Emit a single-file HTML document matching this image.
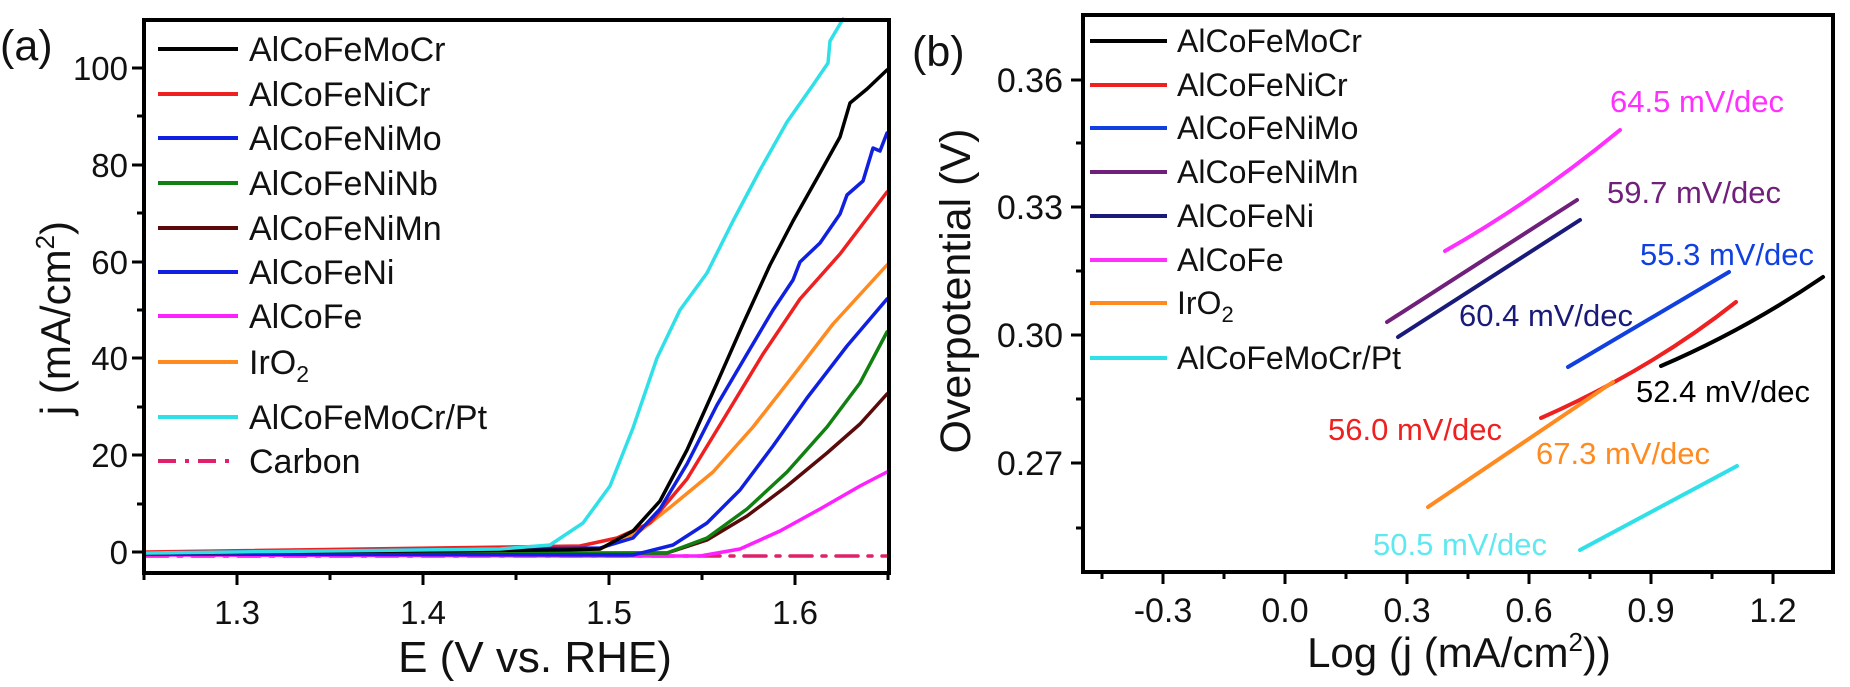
<!DOCTYPE html>
<html><head><meta charset="utf-8"><style>
html,body{margin:0;padding:0;background:#fff;}
svg{display:block;font-family:"Liberation Sans",Arial,sans-serif;}
</style></head><body>
<svg width="1850" height="687" viewBox="0 0 1850 687" xmlns="http://www.w3.org/2000/svg">
<g fill="none" stroke-linejoin="round" stroke-linecap="round" stroke-width="3.5">
<polyline stroke="#e0206a" stroke-width="3.5" stroke-dasharray="22,10,4,10" points="146,556 887,556"/>
<polyline stroke="#ff20ff" points="146,555 600,556 700,556 740,549 780,531 820,509 860,486 887,472"/>
<polyline stroke="#5a0a0a" points="146,554 667,553 707,540 747,516 787,486 827,453 860,424 887,394"/>
<polyline stroke="#108010" points="146,554 667,553 707,538 747,509 787,472 827,427 860,383 887,332"/>
<polyline stroke="#1020e0" points="146,554 633,555 673,545 707,523 740,490 773,446 807,398 847,346 887,299"/>
<polyline stroke="#ff8a20" points="146,553 560,550 600,549 640,531 673,505 713,472 753,427 793,376 833,324 887,265"/>
<polyline stroke="#ee2020" points="146,552 580,546 617,538 650,523 687,479 723,420 763,354 800,299 840,254 887,192"/>
<polyline stroke="#1020e0" points="146,553 600,548 633,538 660,509 687,464 717,405 747,354 773,310 793,280 800,262 820,243 840,214 847,195 863,181 873,148 880,151 887,133"/>
<polyline stroke="#000" points="146,553 560,550 600,549 633,531 660,501 687,450 717,383 743,324 770,265 793,221 820,173 840,137 850,103 867,89 887,70"/>
<polyline stroke="#30e0e8" points="146,553 500,549 550,545 583,523 610,486 633,428 657,358 680,310 707,273 733,221 760,170 787,122 813,85 828,63 830,41 843,19"/>
</g>
<rect x="144" y="20" width="745" height="553" fill="none" stroke="#000" stroke-width="4"/>
<g stroke="#000" stroke-width="3">
<line x1="144" y1="552" x2="132" y2="552"/><line x1="144" y1="455" x2="132" y2="455"/><line x1="144" y1="358" x2="132" y2="358"/><line x1="144" y1="262" x2="132" y2="262"/><line x1="144" y1="165" x2="132" y2="165"/><line x1="144" y1="68" x2="132" y2="68"/>
<line x1="144" y1="504" x2="137" y2="504"/><line x1="144" y1="407" x2="137" y2="407"/><line x1="144" y1="310" x2="137" y2="310"/><line x1="144" y1="213" x2="137" y2="213"/><line x1="144" y1="116" x2="137" y2="116"/>
<line x1="237" y1="573" x2="237" y2="585"/><line x1="423" y1="573" x2="423" y2="585"/><line x1="609" y1="573" x2="609" y2="585"/><line x1="795" y1="573" x2="795" y2="585"/>
<line x1="144" y1="573" x2="144" y2="580"/><line x1="330" y1="573" x2="330" y2="580"/><line x1="516" y1="573" x2="516" y2="580"/><line x1="702" y1="573" x2="702" y2="580"/><line x1="888" y1="573" x2="888" y2="580"/>
</g>
<g font-size="33" fill="#111" text-anchor="end">
<text x="128" y="564">0</text><text x="128" y="467">20</text><text x="128" y="370">40</text><text x="128" y="274">60</text><text x="128" y="177">80</text><text x="128" y="80">100</text>
</g>
<g font-size="33" fill="#111" text-anchor="middle">
<text x="237" y="624">1.3</text><text x="423" y="624">1.4</text><text x="609" y="624">1.5</text><text x="795" y="624">1.6</text>
</g>
<text x="535" y="672" font-size="44" text-anchor="middle" fill="#111">E (V vs. RHE)</text>
<text transform="translate(70,318) rotate(-90)" font-size="42" text-anchor="middle" fill="#111">j (mA/cm<tspan font-size="26" dy="-16">2</tspan><tspan dy="16">)</tspan></text>
<text x="0" y="60" font-size="43" fill="#111">(a)</text>
<g stroke-width="4">
<line x1="158" y1="49" x2="238" y2="49" stroke="#000"/>
<line x1="158" y1="94" x2="238" y2="94" stroke="#ee2020"/>
<line x1="158" y1="138" x2="238" y2="138" stroke="#1020e0"/>
<line x1="158" y1="183" x2="238" y2="183" stroke="#108010"/>
<line x1="158" y1="228" x2="238" y2="228" stroke="#5a0a0a"/>
<line x1="158" y1="272" x2="238" y2="272" stroke="#1020e0"/>
<line x1="158" y1="316" x2="238" y2="316" stroke="#ff20ff"/>
<line x1="158" y1="362" x2="238" y2="362" stroke="#ff8a20"/>
<line x1="158" y1="417" x2="238" y2="417" stroke="#30e0e8"/>
<line x1="158" y1="461" x2="238" y2="461" stroke="#e0206a" stroke-dasharray="18,9,4,9"/>
</g>
<g font-size="34" fill="#111">
<text x="249" y="61">AlCoFeMoCr</text><text x="249" y="106">AlCoFeNiCr</text><text x="249" y="150">AlCoFeNiMo</text><text x="249" y="195">AlCoFeNiNb</text><text x="249" y="240">AlCoFeNiMn</text><text x="249" y="284">AlCoFeNi</text><text x="249" y="328">AlCoFe</text><text x="249" y="374">IrO<tspan font-size="23" dy="8">2</tspan></text><text x="249" y="429">AlCoFeMoCr/Pt</text><text x="249" y="473">Carbon</text>
</g>

<rect x="1083" y="15" width="750" height="557" fill="none" stroke="#000" stroke-width="4"/>
<g stroke="#000" stroke-width="3">
<line x1="1083" y1="80" x2="1071" y2="80"/><line x1="1083" y1="207" x2="1071" y2="207"/><line x1="1083" y1="335" x2="1071" y2="335"/><line x1="1083" y1="463" x2="1071" y2="463"/>
<line x1="1083" y1="143" x2="1076" y2="143"/><line x1="1083" y1="271" x2="1076" y2="271"/><line x1="1083" y1="399" x2="1076" y2="399"/><line x1="1083" y1="528" x2="1076" y2="528"/>
<line x1="1163" y1="572" x2="1163" y2="584"/><line x1="1285" y1="572" x2="1285" y2="584"/><line x1="1407" y1="572" x2="1407" y2="584"/><line x1="1529" y1="572" x2="1529" y2="584"/><line x1="1651" y1="572" x2="1651" y2="584"/><line x1="1773" y1="572" x2="1773" y2="584"/>
<line x1="1102" y1="572" x2="1102" y2="579"/><line x1="1224" y1="572" x2="1224" y2="579"/><line x1="1346" y1="572" x2="1346" y2="579"/><line x1="1468" y1="572" x2="1468" y2="579"/><line x1="1590" y1="572" x2="1590" y2="579"/><line x1="1712" y1="572" x2="1712" y2="579"/>
</g>
<g font-size="34" fill="#111" text-anchor="end">
<text x="1063" y="92">0.36</text><text x="1063" y="219">0.33</text><text x="1063" y="347">0.30</text><text x="1063" y="475">0.27</text>
</g>
<g font-size="34" fill="#111" text-anchor="middle">
<text x="1163" y="622">-0.3</text><text x="1285" y="622">0.0</text><text x="1407" y="622">0.3</text><text x="1529" y="622">0.6</text><text x="1651" y="622">0.9</text><text x="1773" y="622">1.2</text>
</g>
<text x="1459" y="667" font-size="42" text-anchor="middle" fill="#111">Log (j (mA/cm<tspan font-size="26" dy="-16">2</tspan><tspan dy="16">))</tspan></text>
<text transform="translate(970,291) rotate(-90)" font-size="43" text-anchor="middle" fill="#111">Overpotential (V)</text>
<text x="912" y="66" font-size="43" fill="#111">(b)</text>
<g stroke-width="4">
<line x1="1090" y1="41" x2="1167" y2="41" stroke="#000"/>
<line x1="1090" y1="85" x2="1167" y2="85" stroke="#ee2020"/>
<line x1="1090" y1="128" x2="1167" y2="128" stroke="#1040e0"/>
<line x1="1090" y1="172" x2="1167" y2="172" stroke="#70207a"/>
<line x1="1090" y1="216" x2="1167" y2="216" stroke="#1a1a7a"/>
<line x1="1090" y1="260" x2="1167" y2="260" stroke="#ff30ff"/>
<line x1="1090" y1="303" x2="1167" y2="303" stroke="#ff8a20"/>
<line x1="1090" y1="358" x2="1167" y2="358" stroke="#30e0e8"/>
</g>
<g font-size="32" fill="#111">
<text x="1177" y="52">AlCoFeMoCr</text><text x="1177" y="96">AlCoFeNiCr</text><text x="1177" y="139">AlCoFeNiMo</text><text x="1177" y="183">AlCoFeNiMn</text><text x="1177" y="227">AlCoFeNi</text><text x="1177" y="271">AlCoFe</text><text x="1177" y="314">IrO<tspan font-size="22" dy="8">2</tspan></text><text x="1177" y="369">AlCoFeMoCr/Pt</text>
</g>
<g fill="none" stroke-width="4" stroke-linecap="round">
<path d="M1445,251 Q1535,200 1620,130" stroke="#ff30ff"/>
<path d="M1387,322 L1577,200" stroke="#70207a"/>
<path d="M1398,337 L1580,220" stroke="#1a1a7a"/>
<path d="M1568,367 L1729,272" stroke="#1040e0"/>
<path d="M1661,366 Q1745,330 1823,277" stroke="#000"/>
<path d="M1541,418 Q1650,370 1736,302" stroke="#ee2020"/>
<path d="M1428,507 L1613,382" stroke="#ff8a20"/>
<path d="M1580,550 L1737,466" stroke="#30e0e8"/>
</g>
<g font-size="31">
<text x="1610" y="112" fill="#ff30ff">64.5 mV/dec</text>
<text x="1607" y="203" fill="#70207a">59.7 mV/dec</text>
<text x="1640" y="265" fill="#1040e0">55.3 mV/dec</text>
<text x="1459" y="326" fill="#1a1a7a">60.4 mV/dec</text>
<text x="1636" y="402" fill="#000">52.4 mV/dec</text>
<text x="1328" y="440" fill="#ee2020">56.0 mV/dec</text>
<text x="1536" y="464" fill="#ff8a20">67.3 mV/dec</text>
<text x="1373" y="555" fill="#60e8f0">50.5 mV/dec</text>
</g>
</svg>
</body></html>
